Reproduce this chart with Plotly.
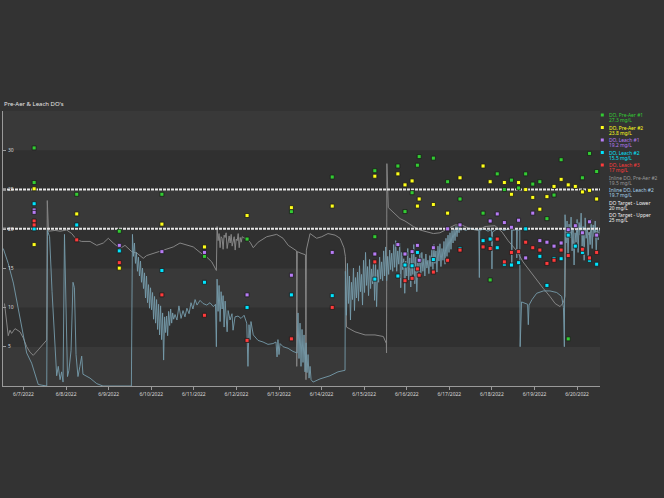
import pandas as pd
import plotly.graph_objects as go

# ---------------- grab-sample DO readings (mg/L) ----------------
pre_aer1_times = ["2022-06-07 06:00", "2022-06-07 06:00", "2022-06-08 06:00", "2022-06-09 06:00", "2022-06-10 06:00",
                  "2022-06-11 06:00", "2022-06-12 06:00", "2022-06-13 07:00", "2022-06-14 06:00", "2022-06-15 06:00",
                  "2022-06-15 06:00", "2022-06-15 19:00", "2022-06-15 23:00", "2022-06-16 03:00", "2022-06-16 06:00",
                  "2022-06-16 07:00", "2022-06-16 15:00", "2022-06-16 23:00", "2022-06-17 06:00", "2022-06-17 19:00",
                  "2022-06-17 23:00", "2022-06-18 03:00", "2022-06-18 07:00", "2022-06-18 11:00", "2022-06-18 15:00",
                  "2022-06-18 19:00", "2022-06-18 23:00", "2022-06-19 03:00", "2022-06-19 07:00", "2022-06-19 11:00",
                  "2022-06-19 15:00", "2022-06-19 19:00", "2022-06-20 03:00", "2022-06-20 07:00", "2022-06-20 11:00"]
pre_aer1_values = [30.3, 25.9, 24.4, 19.7, 24.4, 16.5, 18.7, 22.2, 26.6, 27.4,
                   19.0, 28.0, 22.2, 24.6, 28.1, 29.2, 29.0, 26.0, 23.8, 22.0,
                   13.5, 27.0, 25.0, 26.2, 25.2, 27.0, 25.7, 26.0, 21.3, 24.3,
                   28.8, 6.0, 26.5, 29.6, 27.3]

pre_aer2_times = ["2022-06-07 06:00", "2022-06-07 06:00", "2022-06-08 06:00", "2022-06-09 06:00", "2022-06-10 06:00",
                  "2022-06-11 06:00", "2022-06-12 06:00", "2022-06-13 07:00", "2022-06-14 06:00", "2022-06-15 06:00",
                  "2022-06-15 19:00", "2022-06-15 23:00", "2022-06-16 03:00", "2022-06-16 06:00", "2022-06-16 07:00",
                  "2022-06-16 15:00", "2022-06-16 23:00", "2022-06-17 06:00", "2022-06-17 19:00", "2022-06-17 23:00",
                  "2022-06-18 07:00", "2022-06-18 11:00", "2022-06-18 15:00", "2022-06-18 19:00", "2022-06-18 23:00",
                  "2022-06-19 03:00", "2022-06-19 07:00", "2022-06-19 11:00", "2022-06-19 15:00", "2022-06-19 19:00",
                  "2022-06-19 23:00", "2022-06-20 03:00", "2022-06-20 07:00", "2022-06-20 11:00"]
pre_aer2_values = [25.1, 18.0, 21.9, 15.0, 20.6, 17.7, 21.7, 22.7, 22.9, 26.7,
                   27.0, 25.6, 26.1, 22.9, 23.8, 23.1, 22.0, 26.5, 28.0, 26.0,
                   25.9, 24.4, 25.9, 25.0, 24.0, 22.5, 24.1, 25.4, 26.3, 25.6,
                   25.4, 24.7, 24.9, 23.8]

leach1_times = ["2022-06-07 06:00", "2022-06-07 06:00", "2022-06-09 06:00", "2022-06-10 06:00", "2022-06-11 06:00",
                "2022-06-12 06:00", "2022-06-13 07:00", "2022-06-14 06:00", "2022-06-15 06:00", "2022-06-15 19:00",
                "2022-06-15 23:00", "2022-06-16 03:00", "2022-06-16 06:00", "2022-06-16 07:00", "2022-06-16 15:00",
                "2022-06-16 23:00", "2022-06-17 06:00", "2022-06-17 23:00", "2022-06-18 03:00", "2022-06-18 07:00",
                "2022-06-18 11:00", "2022-06-18 15:00", "2022-06-18 19:00", "2022-06-18 23:00", "2022-06-19 03:00",
                "2022-06-19 07:00", "2022-06-19 11:00", "2022-06-19 15:00", "2022-06-19 19:00", "2022-06-19 23:00",
                "2022-06-20 03:00", "2022-06-20 07:00", "2022-06-20 11:00"]
leach1_values = [22.4, 22.1, 17.9, 17.1, 17.0, 11.6, 14.1, 17.0, 16.8, 18.0,
                 16.8, 17.1, 17.9, 16.0, 17.6, 20.0, 20.5, 21.0, 21.9, 20.8,
                 20.2, 21.1, 16.3, 22.0, 18.5, 18.3, 17.8, 18.2, 19.9, 20.4,
                 19.5, 20.9, 19.2]

leach2_times = ["2022-06-07 06:00", "2022-06-07 06:00", "2022-06-08 06:00", "2022-06-09 06:00", "2022-06-10 06:00",
                "2022-06-11 06:00", "2022-06-12 06:00", "2022-06-13 07:00", "2022-06-14 06:00", "2022-06-15 06:00",
                "2022-06-15 19:00", "2022-06-15 23:00", "2022-06-16 03:00", "2022-06-16 06:00", "2022-06-16 15:00",
                "2022-06-17 06:00", "2022-06-17 19:00", "2022-06-17 23:00", "2022-06-18 03:00", "2022-06-18 07:00",
                "2022-06-18 11:00", "2022-06-18 15:00", "2022-06-18 19:00", "2022-06-19 03:00", "2022-06-19 07:00",
                "2022-06-19 11:00", "2022-06-19 15:00", "2022-06-19 19:00", "2022-06-19 23:00", "2022-06-20 03:00",
                "2022-06-20 07:00", "2022-06-20 11:00"]
leach2_values = [23.2, 20.0, 20.5, 17.2, 14.7, 13.2, 10.0, 11.6, 11.5, 13.6,
                 14.0, 15.4, 15.3, 17.0, 16.1, 17.5, 18.5, 18.7, 17.6, 15.5,
                 15.4, 15.7, 20.0, 16.5, 12.8, 16.2, 16.2, 19.2, 17.8, 17.0,
                 16.0, 15.5]

leach3_times = ["2022-06-07 06:00", "2022-06-07 06:00", "2022-06-08 06:00", "2022-06-09 06:00", "2022-06-10 06:00",
                "2022-06-11 06:00", "2022-06-12 06:00", "2022-06-13 07:00", "2022-06-14 06:00", "2022-06-15 06:00",
                "2022-06-15 23:00", "2022-06-16 03:00", "2022-06-16 06:00", "2022-06-16 07:00", "2022-06-16 15:00",
                "2022-06-16 23:00", "2022-06-17 06:00", "2022-06-17 19:00", "2022-06-17 23:00", "2022-06-18 03:00",
                "2022-06-18 07:00", "2022-06-18 11:00", "2022-06-18 15:00", "2022-06-18 19:00", "2022-06-18 23:00",
                "2022-06-19 03:00", "2022-06-19 07:00", "2022-06-19 11:00", "2022-06-19 15:00", "2022-06-19 19:00",
                "2022-06-20 03:00", "2022-06-20 07:00", "2022-06-20 11:00"]
leach3_values = [21.0, 20.5, 18.6, 15.7, 11.6, 9.0, 5.8, 6.0, 10.0, 15.8,
                 13.4, 13.7, 14.9, 14.1, 14.5, 16.0, 17.3, 17.7, 17.5, 18.7,
                 15.8, 17.0, 17.1, 18.3, 17.6, 17.3, 15.6, 16.0, 17.3, 16.6,
                 17.4, 16.3, 17.0]

# ---------------- inline probes: hours after 2022-06-07 00:00 ----------------
LOG_START = "2022-06-07 00:00"
BURST_STEP_MIN = 34   # logging interval while the probe was logging fast

inline_pa2_hours_a = [-10.7, -8.6, -7.6, -6.7, -4.8, -2.0, -0.1, 1.8, 3.7, 5.5, 8.3, 11.2, 13.1, 13.4, 14.1,
                      17.8, 20.6, 24.3, 27.2, 30.0, 32.8, 37.5, 41.3, 45.0, 47.8, 50.6, 54.4, 57.2, 61.0, 64.0,
                      67.5, 69.4, 73.2, 78.8, 84.4, 88.2, 92.0, 95.7, 99.5, 103.3, 106.1, 107.9, 108.7]
inline_pa2_values_a = [10.5, 6.4, 7.1, 6.7, 7.3, 6.9, 6.1, 5.0, 4.3, 3.9, 4.6, 5.4, 5.85, 23.6, 19.7,
                       19.8, 19.7, 19.85, 19.4, 18.6, 18.4, 18.4, 17.9, 18.2, 18.8, 18.2, 17.5, 17.9, 17.1, 16.9,
                       16.25, 16.6, 16.9, 17.3, 17.7, 18.2, 17.9, 17.7, 17.0, 16.4, 15.8, 15.0, 14.7]
inline_pa2_burst1_start = 109.1
inline_pa2_burst1 = [20.3, 18.5, 19.4, 17.6, 19.0, 18.8, 17.4, 19.2, 18.9, 19.5, 17.5, 18.6, 19.1, 18.2,
                     19.3, 17.8, 18.4, 19.0, 17.3, 18.7, 18.5, 19.4, 17.6, 18.9, 18.3, 19.0, 18.9]
inline_pa2_hours_b = [126.0, 127.7, 129.5, 132.2, 137.1, 142.7, 146.3, 149.2, 152.1, 153.9, 154.0, 154.3, 156.4,
                      158.9, 159.2, 159.4, 161.5, 165.2, 168.1, 171.6, 175.6, 178.4, 180.6, 181.4, 182.0, 186.8,
                      192.5, 198.1, 202.8, 204.5, 204.6, 204.8, 205.6, 209.4, 212.2, 215.0, 219.7, 223.5, 227.2,
                      231.0, 234.7, 239.4, 243.2, 247.0, 251.6, 256.2, 260.1, 265.7, 269.7, 273.1, 278.0, 281.5,
                      285.5, 289.2, 293.0, 296.7, 299.6, 302.4, 304.2, 305.2, 305.6, 306.9, 308.6, 310.3, 312.0,
                      313.6, 315.3, 317.0, 318.7, 320.4, 322.1, 324.6]
inline_pa2_values_b = [18.7, 18.3, 17.6, 18.3, 19.0, 19.3, 18.8, 17.9, 17.4, 17.2, 2.5, 17.1, 16.9,
                       16.7, 0.8, 17.3, 19.4, 18.8, 19.0, 19.4, 19.2, 18.8, 17.6, 16.5, 7.5, 6.9,
                       6.5, 6.5, 6.3, 5.4, 4.2, 28.3, 22.7, 21.9, 21.3, 21.0, 20.3, 19.85, 19.6,
                       19.4, 19.5, 20.1, 20.5, 20.5, 20.0, 19.8, 20.3, 20.4, 19.6, 18.5, 17.2, 15.8,
                       14.6, 13.4, 12.4, 11.4, 10.5, 10.1, 10.6, 11.4, 19.0, 19.8, 19.3, 20.2, 19.6,
                       20.4, 19.4, 20.1, 19.2, 20.0, 19.7, 19.5]

inline_l2_hours_a = [-11.4, -8.6, -5.7, -2.9, -0.1, 1.8, 4.6, 6.5, 8.3, 10.4, 13.1, 13.5, 14.7, 16.1, 17.8, 18.7,
                     19.6, 20.6, 21.5, 22.3, 23.1, 24.0, 24.8, 25.6, 26.8, 27.9, 28.7, 29.6, 30.7, 31.8, 32.8,
                     33.5, 35.2, 37.5, 41.3, 44.8, 60.8, 61.0]
inline_l2_values_a = [17.5, 15.6, 13.1, 9.7, 6.3, 4.2, 2.9, 1.6, 0.2, 0.1, 0.0, 19.8, 19.0, 12.0, 4.0, 1.3,
                      2.5, 0.8, 1.8, 0.5, 19.3, 8.0, 1.2, 2.0, 4.5, 13.2, 12.5, 4.0, 1.2, 2.5, 3.8,
                      1.5, 1.3, 1.0, 0.3, 0.0, 0.0, 18.8]
inline_l2_burst1_start = 61.4
inline_l2_burst1 = [19.3, 16.5, 18.2, 15.6, 17.0, 14.6, 16.4, 14.0, 15.9, 13.2, 15.0, 12.4, 14.4, 11.2,
                    14.0, 10.6, 12.9, 9.9, 12.5, 9.7, 11.9, 8.5, 11.4, 8.0, 11.0, 7.2, 10.4, 6.5,
                    10.2, 5.9, 9.3, 3.3, 8.8, 6.8, 8.9, 6.4, 9.5, 7.7, 9.8, 8.0, 9.3, 8.5]
inline_l2_hours_c = [85.4, 86.5, 87.6, 88.8, 89.9, 91.0, 92.1, 93.3, 94.4, 95.5, 96.7, 97.8, 99.5, 101.2,
                     103.3, 105.1, 107.0, 108.2, 108.7]
inline_l2_values_c = [9.1, 8.4, 10.2, 8.6, 9.6, 8.8, 9.9, 9.2, 10.6, 9.8, 11.0, 10.3, 10.9, 10.5,
                      10.3, 10.6, 10.1, 10.4, 5.0]
inline_l2_burst2_start = 109.1
inline_l2_burst2 = [13.6, 9.5, 12.8, 8.2, 12.0, 9.8, 11.5, 7.5, 10.8, 9.0, 6.9, 9.6]
inline_l2_hours_d = [116.4, 117.5, 118.1, 119.2, 120.9, 122.6, 124.3, 125.8, 126.5, 127.1, 127.7, 128.2, 129.5,
                     132.2, 135.0, 137.8, 140.6, 142.3, 142.9, 143.4, 144.0, 144.6, 146.3, 149.1, 151.9, 154.2]
inline_l2_values_d = [8.4, 9.2, 7.1, 8.8, 8.9, 8.6, 9.0, 8.0, 2.5, 7.8, 5.9, 8.2, 6.5,
                      5.8, 5.6, 5.3, 5.4, 5.6, 3.7, 5.9, 4.0, 5.4, 5.0, 4.8, 4.4, 4.2]
inline_l2_burst3_start = 154.7
inline_l2_burst3 = [9.3, 3.5, 8.0, 2.5, 7.2, 3.0, 6.5, 1.8, 5.5, 1.7, 4.0, 1.0, 2.5, 0.8]
inline_l2_hours_e = [163.2, 167.1, 172.7, 177.2, 181.2, 181.4]
inline_l2_values_e = [0.5, 0.9, 1.3, 1.8, 2.0, 14.6]
inline_l2_burst4_start = 182.0
inline_l2_burst4 = [9.0, 15.6, 10.5, 14.0, 8.4, 13.2, 11.0, 15.0, 9.6, 13.8, 11.2, 14.5, 10.8, 15.3, 12.0,
                    14.2, 10.3, 16.0, 11.9, 17.0, 12.8, 15.2, 11.5, 16.1, 12.4, 14.9, 13.0, 16.0, 10.9, 15.5,
                    10.1, 14.8, 13.2, 16.4, 13.6, 15.8, 13.4, 17.2, 14.0, 17.7, 13.4, 16.5, 14.2, 17.3, 14.8,
                    16.9, 14.6, 18.0, 15.1, 18.5, 14.6, 17.2, 15.5, 18.2, 12.5, 17.0, 14.8, 16.2, 11.8, 15.9,
                    14.0, 17.5, 13.5, 16.3, 12.6, 16.8, 14.2, 18.0, 13.0, 16.4, 12.0, 15.7, 14.5, 16.9, 14.1,
                    17.0, 14.6, 16.2, 14.0, 16.8, 15.0, 16.0, 14.3, 16.6, 15.2, 17.4, 14.8, 18.0, 15.6, 17.2,
                    14.5, 17.8, 15.9, 18.1, 15.2, 17.5, 16.0, 18.4, 15.5, 18.8, 16.5, 19.2, 17.0, 19.5, 17.4,
                    19.8, 18.2, 20.0, 18.5, 20.3, 19.0, 20.4, 19.5, 20.3, 19.8]
inline_l2_hours_f = [247.1, 249.4, 251.6, 253.9, 256.6, 256.9, 257.1, 259.5, 261.8, 263.8, 264.0, 264.3, 266.3,
                     268.6, 270.8, 273.1, 275.0, 275.2, 275.4, 277.9, 278.0, 278.3, 279.7, 279.9, 280.7, 282.1,
                     284.1, 284.5, 284.9, 286.6, 289.2, 293.0, 296.7, 300.5, 303.3, 304.3, 304.8]
inline_l2_values_f = [20.0, 19.8, 20.1, 19.9, 19.9, 13.8, 19.8, 20.0, 19.7, 19.9, 14.9, 19.6, 19.9,
                      20.0, 19.8, 20.0, 19.9, 15.4, 19.8, 19.9, 16.3, 19.8, 19.9, 5.0, 10.7, 10.6,
                      10.4, 7.8, 10.3, 11.0, 11.8, 12.1, 12.1, 11.9, 11.4, 10.0, 5.0]
inline_l2_burst5_start = 305.2
inline_l2_burst5 = [21.8, 18.2, 21.0, 16.5, 20.6, 18.9, 21.5, 17.2, 20.0, 15.4, 19.5, 18.3, 21.2, 17.0, 20.8,
                    19.2, 22.0, 17.8, 20.3, 16.0, 21.4, 18.8, 20.1, 15.8, 19.6, 18.0, 21.2, 17.5, 20.5, 19.0,
                    21.0, 16.8, 20.2, 18.6, 19.9, 19.7]

# ---------------- targets & axes ----------------
target_lower = 20
target_upper = 25
x_start, x_end = "2022-06-06 12:27", "2022-06-20 12:54"
y_ticks = [0, 5, 10, 15, 20, 25, 30, 35]

# ---------------- helpers ----------------
base = pd.Timestamp(LOG_START)


def hours_to_time(hours):
    return [base + pd.Timedelta(hours=h) for h in hours]


def burst(start_h, values):
    step = BURST_STEP_MIN / 60.0
    return [start_h + i * step for i in range(len(values))], list(values)


def assemble(parts):
    hrs, vals = [], []
    for h, v in parts:
        hrs += list(h)
        vals += list(v)
    return hours_to_time(hrs), vals


pa2_t, pa2_v = assemble([
    (inline_pa2_hours_a, inline_pa2_values_a),
    burst(inline_pa2_burst1_start, inline_pa2_burst1),
    (inline_pa2_hours_b, inline_pa2_values_b),
])
l2_t, l2_v = assemble([
    (inline_l2_hours_a, inline_l2_values_a),
    burst(inline_l2_burst1_start, inline_l2_burst1),
    (inline_l2_hours_c, inline_l2_values_c),
    burst(inline_l2_burst2_start, inline_l2_burst2),
    (inline_l2_hours_d, inline_l2_values_d),
    burst(inline_l2_burst3_start, inline_l2_burst3),
    (inline_l2_hours_e, inline_l2_values_e),
    burst(inline_l2_burst4_start, inline_l2_burst4),
    (inline_l2_hours_f, inline_l2_values_f),
    burst(inline_l2_burst5_start, inline_l2_burst5),
])

FONT = "Noto Sans"
BG = "#333333"
BAND_LIGHT = "#393939"
BAND_DARK = "#303030"
AXIS_C = "#9a9a9a"

W, H = 664, 498
PL, PR, PT, PB = 3, 600, 111, 386


def py(Y):
    return (PB - Y) / (PB - PT)


fig = go.Figure()

# inline probe lines
fig.add_trace(go.Scatter(x=pa2_t, y=pa2_v, mode="lines", name="Inline DO, Pre-Aer #2",
                         line=dict(color="#858585", width=1)))
fig.add_trace(go.Scatter(x=l2_t, y=l2_v, mode="lines", name="Inline DO, Leach #2",
                         line=dict(color="#769cac", width=0.9)))

# target lines
for val, nm in [(target_lower, "DO Target - Lower"), (target_upper, "DO Target - Upper")]:
    fig.add_trace(go.Scatter(x=[x_start, x_end], y=[val, val], mode="lines", name=nm,
                             line=dict(color="#e6e6e6", width=2, dash="3px,1px")))

point_series = [
    ("DO, Pre-Aer #1", pre_aer1_times, pre_aer1_values, "#33cc33"),
    ("DO, Pre-Aer #2", pre_aer2_times, pre_aer2_values, "#ffff1a"),
    ("DO, Leach #1", leach1_times, leach1_values, "#b77cf5"),
    ("DO, Leach #2", leach2_times, leach2_values, "#00e5ff"),
    ("DO, Leach #3", leach3_times, leach3_values, "#ff3b3b"),
]
for nm, t, v, c in point_series:
    fig.add_trace(go.Scatter(x=pd.to_datetime(t), y=v, mode="markers", name=nm,
                             marker=dict(symbol="square", size=4, color=c,
                                         line=dict(color="#1c1c1c", width=0.8))))

# horizontal bands
shapes = []
for i in range(len(y_ticks) - 1):
    shapes.append(dict(type="rect", xref="paper", yref="y", x0=0, x1=1,
                       y0=y_ticks[i], y1=y_ticks[i + 1], layer="below", line=dict(width=0),
                       fillcolor=BAND_LIGHT if i % 2 == 0 else BAND_DARK))

# custom legend
legend_items = [(nm, c, v[-1], True) for nm, t, v, c in point_series] + [
    ("Inline DO, Pre-Aer #2", "#9a9a9a", pa2_v[-1], False),
    ("Inline DO, Leach #2", "#a6d2ea", l2_v[-1], False),
    ("DO Target - Lower", "#f2f2f2", target_lower, False),
    ("DO Target - Upper", "#f2f2f2", target_upper, False),
]
annotations = []
LEG_FONT = 4.9
for i, (nm, c, val, has_marker) in enumerate(legend_items):
    yc = 115 + 12.5 * i
    annotations.append(dict(text=nm, xref="paper", yref="paper", x=1, y=py(yc), xanchor="left",
                            yanchor="middle", xshift=7, showarrow=False,
                            font=dict(family=FONT, size=LEG_FONT, color=c)))
    annotations.append(dict(text=f"{val:g} mg/L", xref="paper", yref="paper", x=1, y=py(yc + 5.2),
                            xanchor="left", yanchor="middle", xshift=7, showarrow=False,
                            font=dict(family=FONT, size=LEG_FONT, color=c)))
    if has_marker:
        shapes.append(dict(type="rect", xref="paper", yref="paper", xsizemode="pixel", ysizemode="pixel",
                           xanchor=1, yanchor=py(yc), x0=0.8, x1=3.8, y0=-1.5, y1=1.5,
                           fillcolor=c, line=dict(width=0)))

annotations.append(dict(text="Pre-Aer &amp; Leach DO's", xref="paper", yref="paper", x=0, y=py(104.5),
                        xanchor="left", yanchor="middle", xshift=-1, showarrow=False,
                        font=dict(family=FONT, size=6, color="#e6e6e6")))

fig.update_layout(
    width=W, height=H,
    margin=dict(l=PL, r=W - PR, t=PT, b=H - PB, pad=0),
    paper_bgcolor=BG, plot_bgcolor=BAND_DARK,
    showlegend=False,
    shapes=shapes, annotations=annotations,
    font=dict(family=FONT, color="#d0d0d0"),
    xaxis=dict(type="date", range=[x_start, x_end], tick0="2022-06-07", dtick=86400000,
               tickformat="%-m/%-d/%Y", ticks="outside", ticklen=3, tickcolor=AXIS_C,
               showline=True, linecolor=AXIS_C, linewidth=1, showgrid=False, zeroline=False,
               tickfont=dict(family=FONT, size=5, color="#d8d8d8")),
    yaxis=dict(range=[0, 35], tickvals=y_ticks, ticks="inside", ticklen=3, tickcolor=AXIS_C,
               ticklabelposition="inside", showline=True, linecolor=AXIS_C, linewidth=1,
               showgrid=False, zeroline=False,
               tickfont=dict(family=FONT, size=5, color="#d8d8d8")),
)

fig.write_html("out.html", config={"displayModeBar": False},
               post_script="document.body.style.margin='0';document.body.style.overflow='hidden';")
